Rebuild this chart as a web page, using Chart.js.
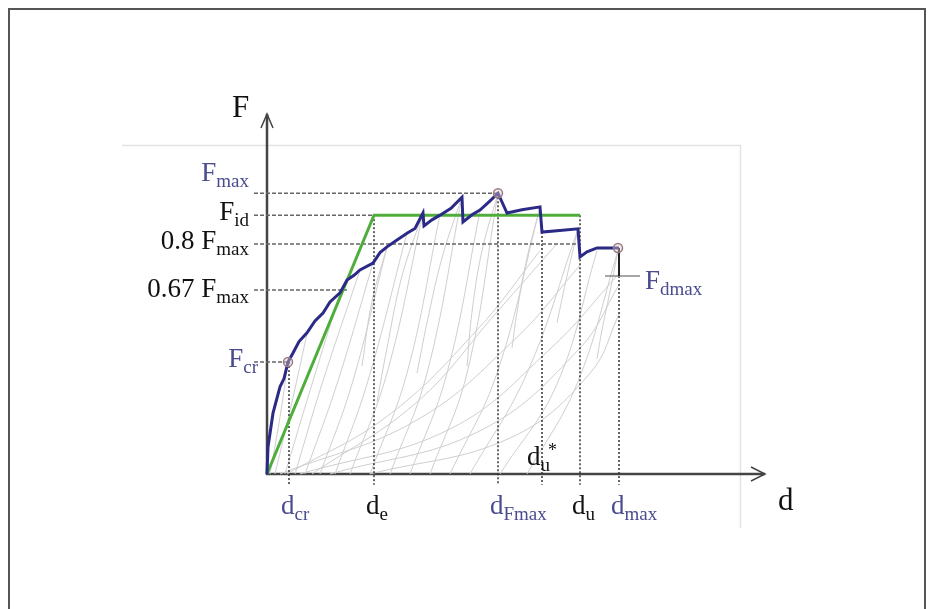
<!DOCTYPE html>
<html>
<head>
<meta charset="utf-8">
<script src="https://cdn.jsdelivr.net/npm/chart.js@4/dist/chart.umd.min.js"></script>
<style>
  body { margin: 0; background: #fff; }
</style>
</head>
<body>
<canvas id="chart" width="932" height="609"></canvas>
<script>
// envelope (capacity) curve, d / F in arbitrary units
var envD = [0, 0.2, 1.2, 2.6, 3.4, 4.2, 5.2, 6.4, 8, 9.6, 11.2, 12.6, 14.6, 16, 17.4, 18.6, 21.2, 22.6, 24, 26, 28, 29.6, 31.2, 31.4, 33, 34.6, 36.8, 39, 39.2, 41, 42.6, 44.4, 46.2, 48, 51, 54.6, 55, 58, 62.2, 62.6, 64, 66, 70.4];
var envF = [0, 7.5, 16.9, 24.2, 26.5, 31.1, 33.6, 36.8, 39.2, 42.5, 44.7, 47.8, 50.3, 53.9, 55.2, 56.7, 58.6, 61.5, 63.1, 65, 66.9, 68.2, 72.5, 68.9, 70.6, 71.9, 73.8, 76.9, 70, 72, 73.3, 75.6, 78, 72.5, 73.4, 74.2, 67.2, 67.6, 68.1, 60.3, 61.7, 62.8, 62.8];

// idealised bilinear curve
var bilinD = [0, 21.4, 62.6];
var bilinF = [0, 71.9, 71.9];

// characteristic force levels
var fNames = ['max', 'id', 'max', 'max', 'cr'];
var fPrefix = ['F', 'F', '0.8 F', '0.67 F', 'F'];
var fValues = [78, 71.9, 63.9, 51.1, 31.1];
var fEndD = [46.2, 62.6, 62.6, 16, 4.2];
var fBlue = [true, false, false, false, true];

// characteristic displacements
var dNames = ['cr', 'e', 'Fmax', 'u', 'u', 'max'];
var dValues = [4.4, 21.4, 46.2, 55, 62.6, 70.4];
var dTopF = [31.1, 71.9, 78, 67.2, 71.9, 62.8];
var dBlue = [true, false, true, false, false, true];

var fdmax = 55;

// marked points: cracking, max force, max displacement
var markD = [4.2, 46.2, 70.2];
var markF = [31.1, 78, 62.8];

// cyclic loading / unloading branches (light grey)
var loops = [
  [[0.6, 0], [2.5, 15], [4.2, 31]],
  [[1.6, 0], [5, 20], [8, 39]],
  [[3.6, 0], [9, 25], [14.6, 50]],
  [[5.6, 0], [11, 25], [18.6, 56.7]],
  [[7.6, 0], [14, 25], [21.2, 58.6]],
  [[10.6, 0], [17, 25], [24, 63]],
  [[13.6, 0], [20, 25], [28, 67]],
  [[16.6, 0], [24, 28], [31.2, 72.5]],
  [[20.6, 0], [28, 28], [34.6, 72]],
  [[24.6, 0], [32, 28], [39, 77]],
  [[28.6, 0], [36, 28], [42.6, 73]],
  [[32.6, 0], [40, 28], [46.2, 78]],
  [[36.6, 0], [46, 28], [54.6, 74]],
  [[40.6, 0], [52, 28], [62.2, 68]],
  [[46.6, 0], [58, 25], [66, 62]],
  [[52, 0], [62, 25], [70.2, 62]],
  [[6.6, 0], [36.6, 12.5], [56.6, 34.7], [70.6, 56]],
  [[12.6, 0], [42.6, 12], [62.6, 35], [70.6, 53]],
  [[20.6, 0], [48.6, 10], [64.6, 28], [70.6, 45]],
  [[2.6, 0], [30, 15], [50, 38], [62.6, 58]],
  [[4, 0], [24, 16], [42, 40], [54.6, 62]],
  [[9, 0], [30, 20], [46, 45], [58, 64]],
  [[31.2, 72.5], [27, 55], [24, 35], [22, 20]],
  [[39, 77], [35, 60], [32, 42], [30, 28]],
  [[46.2, 78], [43, 62], [41, 45], [40, 30]],
  [[54.6, 74], [52, 60], [50, 45], [49, 35]],
  [[62.2, 68], [60, 55], [58, 42]],
  [[70.2, 62], [68.5, 50], [67, 40], [66, 32]],
  [[24, 63], [21, 48], [19, 30]]
];

function pts(xs, ys) {
  return xs.map(function (x, i) { return { x: x, y: ys[i] }; });
}

var datasets = [];

loops.forEach(function (l) {
  datasets.push({
    data: l.map(function (p) { return { x: p[0], y: p[1] }; }),
    borderColor: '#cfcfcf', borderWidth: 1, pointRadius: 0, tension: 0.4, order: 6
  });
});

// horizontal dashed reference lines
fValues.forEach(function (f, i) {
  datasets.push({
    data: [{ x: -2.6, y: f }, { x: fEndD[i], y: f }],
    borderColor: '#666', borderWidth: 1.5, borderDash: [4, 2], pointRadius: 0, order: 5
  });
});
datasets.push({
  data: [{ x: 67.6, y: fdmax }, { x: 74.6, y: fdmax }],
  borderColor: '#888', borderWidth: 1.5, pointRadius: 0, order: 5
});

// vertical dotted lines
dValues.forEach(function (d, i) {
  datasets.push({
    data: [{ x: d, y: dTopF[i] }, { x: d, y: -3 }],
    borderColor: '#333', borderWidth: 1.5, borderDash: [2, 2], pointRadius: 0, order: 5
  });
});
datasets.push({
  data: [{ x: 70.4, y: 62.8 }, { x: 70.4, y: fdmax }],
  borderColor: '#222', borderWidth: 2, pointRadius: 0, order: 2
});

datasets.push({
  data: pts(bilinD, bilinF),
  borderColor: '#4fae3b', borderWidth: 3, pointRadius: 0, order: 3
});
datasets.push({
  data: pts(envD, envF),
  borderColor: '#2b2a86', borderWidth: 3, pointRadius: 0, order: 1
});
datasets.push({
  data: pts(markD, markF),
  showLine: false, pointRadius: 4.5, pointBorderWidth: 1.5,
  pointBorderColor: '#9a7a80', pointBackgroundColor: 'rgba(220,200,200,0.4)', order: 0
});

var BLUE = '#4a4c8e', BLACK = '#111';
var SERIF = '"Liberation Serif", "DejaVu Serif", serif';

function drawLabel(ctx, x, y, main, sub, color, align, size, subSize) {
  size = size || 27; subSize = subSize || 19;
  ctx.font = size + 'px ' + SERIF;
  var w1 = ctx.measureText(main).width;
  ctx.font = subSize + 'px ' + SERIF;
  var w2 = sub ? ctx.measureText(sub).width : 0;
  var x0 = x;
  if (align === 'right') x0 = x - w1 - w2;
  if (align === 'center') x0 = x - (w1 + w2) / 2;
  ctx.fillStyle = color;
  ctx.textAlign = 'left';
  ctx.textBaseline = 'alphabetic';
  ctx.font = size + 'px ' + SERIF;
  ctx.fillText(main, x0, y);
  if (sub) {
    ctx.font = subSize + 'px ' + SERIF;
    ctx.fillText(sub, x0 + w1, y + 6);
  }
  return x0 + w1 + w2;
}

var decor = {
  id: 'decor',
  beforeDraw: function (chart) {
    var ctx = chart.ctx;
    ctx.save();
    ctx.fillStyle = '#fff';
    ctx.fillRect(0, 0, chart.width, chart.height);
    ctx.strokeStyle = '#555';
    ctx.lineWidth = 2;
    ctx.strokeRect(9, 9, 916, 640);
    ctx.strokeStyle = '#e2e2e2';
    ctx.lineWidth = 1.5;
    ctx.beginPath();
    ctx.moveTo(122, 145.5); ctx.lineTo(740.5, 145.5); ctx.lineTo(740.5, 528);
    ctx.stroke();
    ctx.restore();
  },
  beforeDatasetsDraw: function (chart) {
    var ctx = chart.ctx, xs = chart.scales.x, ys = chart.scales.y;
    var x0 = xs.getPixelForValue(0), y0 = ys.getPixelForValue(0);
    var yTop = ys.getPixelForValue(100), xEnd = xs.getPixelForValue(99.6);
    ctx.save();
    ctx.strokeStyle = '#444';
    ctx.lineWidth = 2.5;
    ctx.beginPath();
    ctx.moveTo(x0, y0 + 1); ctx.lineTo(x0, yTop);
    ctx.moveTo(x0 - 1, y0); ctx.lineTo(xEnd, y0);
    ctx.stroke();
    ctx.lineWidth = 1.5;
    ctx.beginPath();
    ctx.moveTo(x0 - 6, yTop + 14); ctx.lineTo(x0, yTop); ctx.lineTo(x0 + 6, yTop + 14);
    ctx.moveTo(xEnd - 14, y0 - 7); ctx.lineTo(xEnd, y0); ctx.lineTo(xEnd - 14, y0 + 7);
    ctx.stroke();
    ctx.restore();
  },
  afterDatasetsDraw: function (chart) {
    var ctx = chart.ctx, xs = chart.scales.x, ys = chart.scales.y;
    var x0 = xs.getPixelForValue(0), y0 = ys.getPixelForValue(0);
    ctx.save();
    // axis titles
    drawLabel(ctx, x0 - 35, ys.getPixelForValue(100) + 3, 'F', '', BLACK, 'left', 31);
    drawLabel(ctx, xs.getPixelForValue(102.2), y0 + 36, 'd', '', BLACK, 'left', 31);
    // force levels
    fValues.forEach(function (f, i) {
      var y = ys.getPixelForValue(f);
      var right = i === 4 ? x0 - 9 : x0 - 18;
      var dy = i === 0 ? -12 : (i === 3 ? 7 : 5);
      drawLabel(ctx, right, y + dy, fPrefix[i], fNames[i], fBlue[i] ? BLUE : BLACK, 'right');
    });
    drawLabel(ctx, xs.getPixelForValue(75.6), ys.getPixelForValue(fdmax) + 13, 'F', 'dmax', BLUE, 'left');
    // displacements
    dValues.forEach(function (d, i) {
      var x = xs.getPixelForValue(d);
      if (i === 3) {
        var e = drawLabel(ctx, x - 15, y0 - 9, 'd', 'u', BLACK, 'left');
        ctx.font = '18px ' + SERIF;
        ctx.fillText('*', e - 2, y0 - 18);
        return;
      }
      drawLabel(ctx, x - 8, y0 + 40, 'd', dNames[i], dBlue[i] ? BLUE : BLACK, 'left');
    });
    ctx.restore();
  }
};

new Chart(document.getElementById('chart').getContext('2d'), {
  type: 'line',
  data: { datasets: datasets },
  options: {
    responsive: false,
    animation: false,
    events: [],
    layout: { padding: { left: 167, right: 165, top: 114, bottom: 99 } },
    scales: {
      x: { type: 'linear', min: -20, max: 100, display: false },
      y: { type: 'linear', min: -10, max: 100, display: false }
    },
    plugins: { legend: { display: false }, tooltip: { enabled: false } }
  },
  plugins: [decor]
});
</script>
</body>
</html>
